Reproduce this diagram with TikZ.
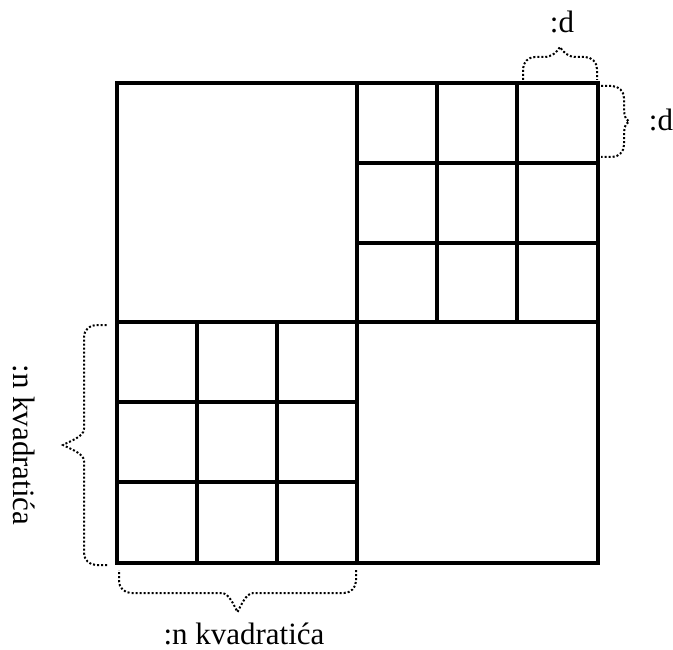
\documentclass[tikz,border=0pt]{standalone}
\usepackage{fontspec}
\setmainfont{Liberation Serif}
\usetikzlibrary{decorations}

% brace with a flat body and a pointed tip
\pgfdeclaredecoration{dotbrace}{brace}{%
  \state{brace}[width=+\pgfdecoratedremainingdistance,next state=final]{%
    \pgfpathmoveto{\pgfpointorigin}%
    \pgfpathlineto{\pgfpoint{0pt}{11pt}}%
    \pgfpathcurveto{\pgfpoint{0pt}{17.6pt}}{\pgfpoint{5.4pt}{23pt}}{\pgfpoint{12pt}{23pt}}%
    \pgfpathlineto{\pgfpoint{.5\pgfdecoratedremainingdistance-16pt}{23pt}}%
    \pgfpathcurveto{\pgfpoint{.5\pgfdecoratedremainingdistance-8pt}{23pt}}%
      {\pgfpoint{.5\pgfdecoratedremainingdistance-3pt}{\pgfdecorationsegmentamplitude-5pt}}%
      {\pgfpoint{.5\pgfdecoratedremainingdistance}{\pgfdecorationsegmentamplitude}}%
    \pgfpathcurveto{\pgfpoint{.5\pgfdecoratedremainingdistance+3pt}{\pgfdecorationsegmentamplitude-5pt}}%
      {\pgfpoint{.5\pgfdecoratedremainingdistance+8pt}{23pt}}%
      {\pgfpoint{.5\pgfdecoratedremainingdistance+16pt}{23pt}}%
    \pgfpathlineto{\pgfpoint{\pgfdecoratedremainingdistance-12pt}{23pt}}%
    \pgfpathcurveto{\pgfpoint{\pgfdecoratedremainingdistance-5.4pt}{23pt}}%
      {\pgfpoint{\pgfdecoratedremainingdistance}{17.6pt}}%
      {\pgfpoint{\pgfdecoratedremainingdistance}{11pt}}%
    \pgfpathlineto{\pgfpoint{\pgfdecoratedremainingdistance}{0pt}}%
  }%
  \state{final}{\pgfpathmoveto{\pgfpointdecoratedpathlast}}%
}

\tikzset{
  grid/.style={line width=4.5pt, line cap=rect},
  curly/.style={decorate, line width=2pt, dash pattern=on 2pt off 2pt,
    decoration={dotbrace, amplitude=#1}},
  lbl/.style={font=\fontsize{31}{34}\selectfont, inner sep=0pt}
}

\begin{document}
\begin{tikzpicture}[x=1pt, y=-1pt]
	\useasboundingbox (0,0) rectangle (673,650);
	% outer square and halves
	\draw[grid] (117,83) rectangle (598,563);
	\draw[grid] (357,83) -- (357,563);
	\draw[grid] (117,322) -- (598,322);
	% small squares, upper right
	\foreach \x in {437,517} \draw[grid] (\x,83) -- (\x,322);
	\foreach \y in {163,243} \draw[grid] (357,\y) -- (598,\y);
	% small squares, lower left
	\foreach \x in {197,277} \draw[grid] (\x,322) -- (\x,563);
	\foreach \y in {402,482} \draw[grid] (117,\y) -- (357,\y);
	% brace ends
	\coordinate (t1) at (523,80);
	\coordinate (t2) at (597,80);
	\coordinate (r1) at (601,86);
	\coordinate (r2) at (601,157);
	\coordinate (l1) at (107,565);
	\coordinate (l2) at (107,325);
	\coordinate (b1) at (356,570);
	\coordinate (b2) at (119,570);
	% labels
	\node[lbl] (dtop) at (562,22) {:d};
	\node[lbl] (dright) at (661,120) {:d};
	\node[lbl, rotate=-90] (nleft) at (24,445) {:n kvadratića};
	\node[lbl] (nbottom) at (244,634) {:n kvadratića};
	% braces
	\draw[curly=33pt] (t1) -- (t2);
	\draw[curly=28pt] (r1) -- (r2);
	\draw[curly=44pt] (l1) -- (l2);
	\draw[curly=42pt] (b1) -- (b2);
\end{tikzpicture}
\end{document}
